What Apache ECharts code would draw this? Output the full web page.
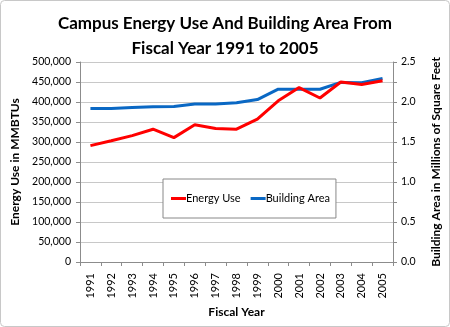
<!DOCTYPE html>
<html><head><meta charset="utf-8">
<script src="https://cdn.jsdelivr.net/npm/echarts@6/dist/echarts.min.js"></script>
<style>html,body{margin:0;padding:0;background:#fff}#c{width:450px;height:327px}</style>
</head><body><div id="c"></div>
<script>
const years = ['1991','1992','1993','1994','1995','1996','1997','1998','1999','2000','2001','2002','2003','2004','2005'];
const energyUse = [291000,303000,316000,332000,311000,343000,334000,332000,357000,403000,436000,410000,450000,444000,453000];
const buildingArea = [1.92,1.92,1.93,1.94,1.945,1.975,1.975,1.99,2.03,2.16,2.16,2.16,2.245,2.24,2.295];
const leftTicks = {min:0, max:500000, interval:50000};
const rightTicks = {min:0, max:2.5, interval:0.25};

const FONT = 'Lato, "Open Sans", sans-serif';
const chart = echarts.init(document.getElementById('c'), null, {renderer:'canvas'});
chart.setOption({
  animation:false,
  backgroundColor:'#fff',
  graphic:[{type:'rect',shape:{x:0.5,y:0.5,width:449,height:326,r:4},style:{fill:'none',stroke:'#c8c8c8',lineWidth:1}}],
  title:{text:'Campus Energy Use And Building Area From\nFiscal Year 1991 to 2005',left:'center',top:6,
    textStyle:{fontFamily:FONT,fontWeight:'bold',fontSize:17,color:'#000',lineHeight:25}},
  legend:{left:163,top:179,orient:'horizontal',padding:[14,6,14,8],
    borderColor:'#888',borderWidth:1,itemWidth:15,itemHeight:3,itemGap:10,icon:'rect',
    backgroundColor:'#fff',
    textStyle:{fontFamily:FONT,fontSize:11,color:'#000',padding:[0,0,0,-5]},
    data:['Energy Use','Building Area']},
  grid:{left:80,right:53,top:62,bottom:65},
  xAxis:{type:'category',data:years,boundaryGap:true,
    name:'Fiscal Year',nameLocation:'middle',nameGap:44,
    nameTextStyle:{fontFamily:FONT,fontWeight:'bold',fontSize:12,color:'#000'},
    axisLine:{lineStyle:{color:'#8c8c8c'}},
    axisTick:{show:true,alignWithLabel:false,length:4,lineStyle:{color:'#8c8c8c'}},
    axisLabel:{rotate:90,fontFamily:FONT,fontSize:11,color:'#000',interval:0,margin:11}},
  yAxis:[
    {type:'value',min:leftTicks.min,max:leftTicks.max,interval:leftTicks.interval,
     name:'Energy Use in MMBTUs',nameLocation:'middle',nameGap:59,
     nameTextStyle:{fontFamily:FONT,fontWeight:'bold',fontSize:12,color:'#000'},
     axisLine:{show:true,lineStyle:{color:'#8c8c8c'}},
     axisTick:{show:true,length:4,lineStyle:{color:'#8c8c8c'}},
     axisLabel:{fontFamily:FONT,fontSize:10.5,color:'#000',margin:9,
       formatter:v=>v.toLocaleString('en-US')},
     splitLine:{show:true,lineStyle:{color:'#c8c8c8'}}},
    {type:'value',min:rightTicks.min,max:rightTicks.max,interval:rightTicks.interval,position:'right',
     name:'Building Area in Millions of Square Feet',nameLocation:'middle',nameGap:37,
     nameTextStyle:{fontFamily:FONT,fontWeight:'bold',fontSize:12,color:'#000'},
     axisLine:{show:true,lineStyle:{color:'#8c8c8c'}},
     axisTick:{show:true,length:4,lineStyle:{color:'#8c8c8c'}},
     axisLabel:{fontFamily:FONT,fontSize:10.5,color:'#000',margin:8,
       formatter:v=>(Math.round(v*100)%50===0)?v.toFixed(1):''},
     splitLine:{show:false}}
  ],
  series:[
    {name:'Energy Use',type:'line',yAxisIndex:0,data:energyUse,symbol:'none',
     lineStyle:{color:'#ff0000',width:3},itemStyle:{color:'#ff0000'}},
    {name:'Building Area',type:'line',yAxisIndex:1,data:buildingArea,symbol:'none',
     lineStyle:{color:'#0a68c4',width:3},itemStyle:{color:'#0a68c4'},z:1}
  ]
});
</script></body></html>
